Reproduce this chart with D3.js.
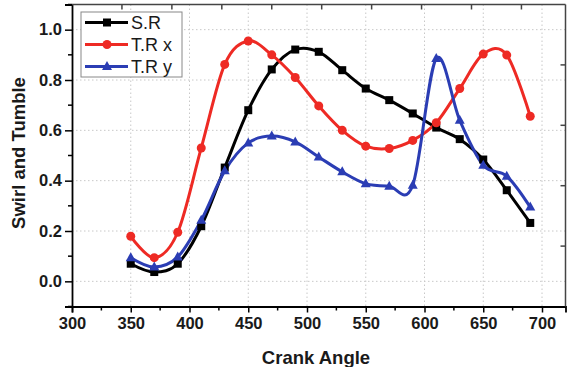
<!DOCTYPE html>
<html>
<head>
<meta charset="utf-8">
<script src="https://cdn.jsdelivr.net/npm/d3@7"></script>
<style>
  body { margin: 0; background: #fff; }
  svg { display: block; font-family: Arial, "Liberation Sans", sans-serif; }
</style>
</head>
<body>
<div id="chart"></div>
<script>
// crank angles and the three series
const angles = [350, 370, 390, 410, 430, 450, 470, 490, 510, 530, 550, 570, 590, 610, 630, 650, 670, 690];
const swirlSR = [0.07, 0.037, 0.07, 0.219, 0.452, 0.68, 0.842, 0.921, 0.912, 0.839, 0.766, 0.72, 0.667, 0.611, 0.565, 0.484, 0.362, 0.232];
const tumbleX = [0.179, 0.094, 0.195, 0.53, 0.862, 0.955, 0.9, 0.81, 0.697, 0.6, 0.537, 0.528, 0.56, 0.63, 0.766, 0.903, 0.899, 0.656];
const tumbleY = [0.094, 0.057, 0.097, 0.243, 0.439, 0.55, 0.577, 0.554, 0.494, 0.435, 0.388, 0.378, 0.382, 0.885, 0.64, 0.461, 0.418, 0.295];

const seriesNames = ['S.R', 'T.R x', 'T.R y'];
const xTicks = [300, 350, 400, 450, 500, 550, 600, 650, 700];
const yTicks = [0.0, 0.2, 0.4, 0.6, 0.8, 1.0];
// the frame's top and right edges carry their own ticks
const topTicks = [342.5, 385, 427.5, 470, 512.5, 555, 597.5, 640, 682.5];
const rightTicks = [0.14, 0.38, 0.62, 0.86];

const width = 567, height = 367;
const margin = { top: 4.5, right: 1.5, bottom: 60.5, left: 72 };

const svg = d3.select('#chart').append('svg').attr('width', width).attr('height', height);

const x = d3.scaleLinear().domain([300, 720]).range([margin.left, width - margin.right]);
const y = d3.scaleLinear().domain([-0.1, 1.1]).range([height - margin.bottom, margin.top]);

const colors = ['#000000', '#ee2a24', '#2b3db4'];
const series = [swirlSR, tumbleX, tumbleY].map((vals, i) => ({
  name: seriesNames[i],
  color: colors[i],
  points: vals.map((v, j) => ({ a: angles[j], v }))
}));

// dotted grid
const grid = svg.append('g');
grid.selectAll('.gx').data(xTicks.slice(1)).enter().append('line')
  .attr('x1', d => x(d)).attr('x2', d => x(d))
  .attr('y1', y.range()[1]).attr('y2', y.range()[0])
  .style('stroke', '#c8c8c8').style('stroke-width', 1).style('stroke-dasharray', '1.5,2.5');
grid.selectAll('.gy').data(yTicks).enter().append('line')
  .attr('x1', x.range()[0]).attr('x2', x.range()[1])
  .attr('y1', d => y(d)).attr('y2', d => y(d))
  .style('stroke', '#c8c8c8').style('stroke-width', 1).style('stroke-dasharray', '1.5,2.5');

// curves (uniform catmull-rom, overshoots a bit like the original spline)
const line = d3.line().x(d => x(d.a)).y(d => y(d.v)).curve(d3.curveCatmullRom.alpha(0));

series.forEach(s => {
  svg.append('path').datum(s.points)
    .attr('d', line)
    .style('fill', 'none')
    .style('stroke', s.color)
    .style('stroke-width', 3);
});

function drawMarker(g, i, cx, cy) {
  if (i === 0) {
    g.append('rect').attr('x', cx - 4).attr('y', cy - 4).attr('width', 8).attr('height', 8).style('fill', colors[0]);
  } else if (i === 1) {
    g.append('circle').attr('cx', cx).attr('cy', cy).attr('r', 4.5).style('fill', colors[1]);
  } else {
    g.append('path').attr('d', `M${cx},${cy - 5.5}L${cx + 5},${cy + 3.5}L${cx - 5},${cy + 3.5}Z`).style('fill', colors[2]);
  }
}

series.forEach((s, i) => {
  const g = svg.append('g');
  s.points.forEach(p => drawMarker(g, i, x(p.a), y(p.v)));
});

// axes
const xAxis = svg.append('g').attr('transform', `translate(0,${y.range()[0]})`)
  .call(d3.axisBottom(x).tickValues(xTicks).tickSize(6).tickPadding(5).tickFormat(d3.format('d')));
xAxis.append('g').selectAll('line').data(d3.range(325, 720, 50)).enter().append('line')
  .attr('x1', d => x(d)).attr('x2', d => x(d)).attr('y1', 0).attr('y2', 4)
  .style('stroke', '#000').style('stroke-width', 1.5);

const yAxis = svg.append('g').attr('transform', `translate(${x.range()[0]},0)`)
  .call(d3.axisLeft(y).tickValues(yTicks).tickSize(7).tickPadding(3).tickFormat(d3.format('.1f')));
yAxis.append('g').selectAll('line').data([-0.1, 0.1, 0.3, 0.5, 0.7, 0.9, 1.1]).enter().append('line')
  .attr('x1', 0).attr('x2', -4).attr('y1', d => y(d)).attr('y2', d => y(d))
  .style('stroke', '#000').style('stroke-width', 1.5);

[xAxis, yAxis].forEach(a => {
  a.select('.domain').style('stroke', '#000').style('stroke-width', 1.8);
  a.selectAll('.tick line').style('stroke', '#000').style('stroke-width', 1.5);
  a.selectAll('.tick text').style('font-size', '16.5px').style('font-weight', 'bold').style('fill', '#1a1a1a');
});

// top and right frame edges
const frame = svg.append('g');
frame.append('line')
  .attr('x1', x.range()[0]).attr('x2', x.range()[1]).attr('y1', y.range()[1]).attr('y2', y.range()[1])
  .style('stroke', '#444').style('stroke-width', 1.5);
frame.append('line')
  .attr('x1', x.range()[1]).attr('x2', x.range()[1]).attr('y1', y.range()[1]).attr('y2', y.range()[0])
  .style('stroke', '#444').style('stroke-width', 1.5);
frame.selectAll('.tt').data(topTicks).enter().append('line')
  .attr('x1', d => x(d)).attr('x2', d => x(d)).attr('y1', y.range()[1]).attr('y2', y.range()[1] + 5)
  .style('stroke', '#444').style('stroke-width', 1.5);
frame.selectAll('.rt').data(rightTicks).enter().append('line')
  .attr('x1', x.range()[1]).attr('x2', x.range()[1] - 5).attr('y1', d => y(d)).attr('y2', d => y(d))
  .style('stroke', '#444').style('stroke-width', 1.5);

// axis titles
svg.append('text')
  .attr('x', 316).attr('y', 364)
  .attr('text-anchor', 'middle')
  .style('font-size', '18.5px').style('font-weight', 'bold').style('fill', '#1a1a1a')
  .text('Crank Angle');

svg.append('text')
  .attr('transform', `translate(25,${153}) rotate(-90)`)
  .attr('text-anchor', 'middle')
  .style('font-size', '18.5px').style('font-weight', 'bold').style('fill', '#1a1a1a')
  .text('Swirl and Tumble');

// legend
const legend = svg.append('g').attr('transform', 'translate(81,12)');
legend.append('rect').attr('width', 101).attr('height', 65)
  .style('fill', '#fff').style('stroke', '#888').style('stroke-width', 1);
series.forEach((s, i) => {
  const ly = 10.5 + i * 22;
  legend.append('line').attr('x1', 4).attr('x2', 47).attr('y1', ly).attr('y2', ly)
    .style('stroke', s.color).style('stroke-width', 3);
  drawMarker(legend, i, 26, ly);
  legend.append('text').attr('x', 50).attr('y', ly + 6.5)
    .style('font-size', '18px').style('fill', '#1a1a1a')
    .text(s.name);
});
</script>
</body>
</html>
